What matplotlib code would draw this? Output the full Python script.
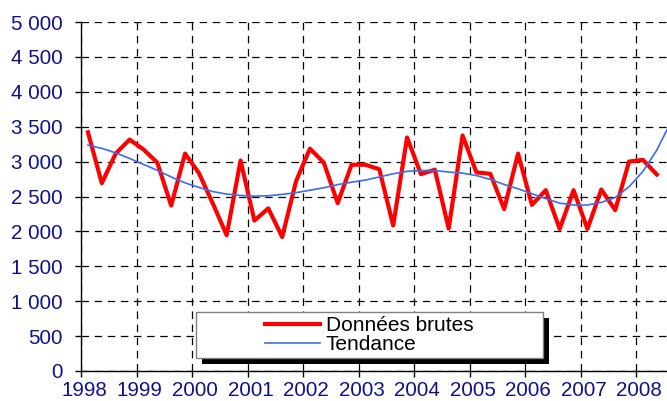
import matplotlib
matplotlib.use('Agg')
import matplotlib.pyplot as plt
from matplotlib.ticker import FuncFormatter
from matplotlib.patches import Rectangle
from matplotlib.transforms import ScaledTranslation

# quarterly raw data, 1998Q1 .. 2008Q2
brutes = [3420, 2690, 3115, 3315,
          3175, 2985, 2370, 3115,
          2835, 2400, 1945, 3015,
          2155, 2330, 1920, 2720,
          3185, 2985, 2405, 2955,
          2955, 2890, 2085, 3345,
          2820, 2885, 2040, 3375,
          2845, 2825, 2320, 3115,
          2380, 2590, 2035, 2590,
          2035, 2600, 2305, 3000,
          3025, 2815]

# trend, one quarter longer than the raw data
tendance = [3235, 3190, 3125, 3045,
            2960, 2875, 2780, 2695,
            2630, 2570, 2535, 2515,
            2505, 2510, 2530, 2555,
            2590, 2625, 2670, 2705,
            2735, 2780, 2825, 2860,
            2872, 2872, 2850, 2835,
            2800, 2745, 2672, 2610,
            2540, 2470, 2405, 2378,
            2378, 2415, 2485, 2640,
            2860, 3165, 3560]

years = list(range(1998, 2009))
yticks = list(range(0, 5001, 500))

x_b = [1998 + (i + 0.5) / 4 for i in range(len(brutes))]
x_t = [1998 + (i + 0.5) / 4 for i in range(len(tendance))]

navy = '#10108a'

fig = plt.figure(figsize=(6.67, 4.01), dpi=100)
ax = fig.add_axes([81 / 667, 1 - 371 / 401, 1 - 81 / 667, (371 - 22) / 401])

ax.plot(x_b, brutes, color='#ff0000', lw=3.0, label='Données brutes',
        solid_joinstyle='round', zorder=3)
ax.plot(x_t, tendance, color='#3c6cf0', lw=1.2, label='Tendance', zorder=3)

ax.set_xlim(1998, 1998 + (667 - 81) / 55.5)
ax.set_ylim(0, 5000)
ax.set_xticks(years)
ax.set_yticks(yticks)
ax.yaxis.set_major_formatter(FuncFormatter(lambda v, p: f"{v:,.0f}".replace(",", " ")))

ax.grid(True, color='black', ls=(0, (6, 4.5)), lw=0.9)
ax.set_axisbelow(True)
for s in ['top', 'right']:
    ax.spines[s].set_visible(False)
ax.spines['left'].set_linewidth(1.0)
ax.spines['bottom'].set_linewidth(1.0)
ax.tick_params(direction='out', length=4, width=1, colors='black',
               labelcolor=navy, labelsize=14.8, labelfontfamily='Liberation Sans')
ax.tick_params(axis='y', pad=9)
ax.tick_params(axis='x', pad=3)
shift = ScaledTranslation(3 / 100, 0, fig.dpi_scale_trans)
for lab in ax.get_xticklabels():
    lab.set_transform(lab.get_transform() + shift)

# legend box with black shadow
bx0, bx1 = (196 - 81) / 586, (543 - 81) / 586
by0, by1 = (371 - 358) / 349, (371 - 312) / 349
ox, oy = 6 / 586, 6 / 349
ax.add_patch(Rectangle((bx0 + ox, by0 - oy), bx1 - bx0, by1 - by0, transform=ax.transAxes,
                       facecolor='black', edgecolor='none', zorder=5, clip_on=False))
ax.add_patch(Rectangle((bx0, by0), bx1 - bx0, by1 - by0, transform=ax.transAxes,
                       facecolor='white', edgecolor='#808080', lw=1, zorder=6, clip_on=False))
leg = ax.legend(loc='center', bbox_to_anchor=((bx0 + bx1) / 2, (by0 + by1) / 2),
                frameon=False, handlelength=2.6, handletextpad=0.3,
                labelspacing=0.0, borderpad=0,
                prop={'family': 'Liberation Sans', 'size': 15})
leg.set_zorder(7)

fig.savefig('out.png', dpi=100)
